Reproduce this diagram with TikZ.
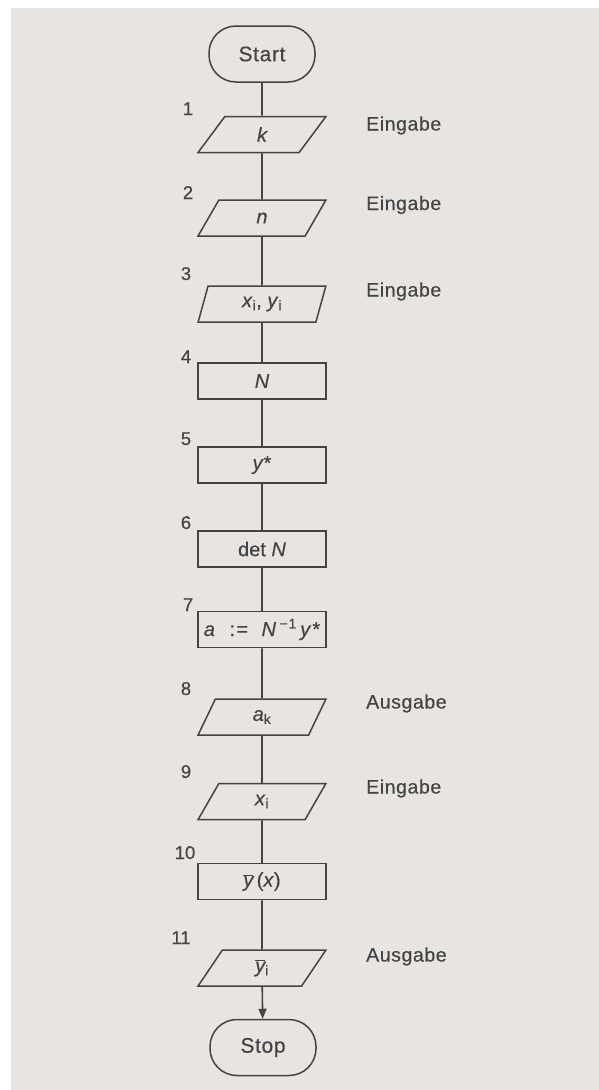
\documentclass[tikz,border=0pt]{standalone}
\usepackage{fontspec}
\setmainfont[FakeBold=0.35]{Liberation Sans}
\usetikzlibrary{shapes.geometric,arrows.meta}
\definecolor{paper}{RGB}{231,228,225}
\definecolor{ink}{RGB}{68,68,68}
\newfontfamily\lblfont[LetterSpace=3,FakeBold=0.35]{Liberation Sans}
\newfontfamily\termfont[LetterSpace=3,FakeBold=0.35]{Liberation Sans}
\newfontfamily\widefont[LetterSpace=6,FakeBold=0.35]{Liberation Sans}
\newcommand{\ybar}{$\overline{\mbox{\itshape y}}$}
\begin{document}
\begin{tikzpicture}[x=1pt,y=-1pt,
  every node/.style={text=ink, inner sep=0pt},
  term/.style={draw=ink, line width=1.5pt, rounded corners=27pt, minimum width=106pt, minimum height=56pt, font=\termfont\fontsize{21}{24}\selectfont},
  proc/.style={draw=ink, line width=1.5pt, minimum width=128pt, minimum height=36pt, font=\fontsize{20}{22}\selectfont},
  io/.style={trapezium, trapezium left angle=76, trapezium right angle=104, trapezium stretches=true, draw=ink, line width=1.5pt, minimum width=128pt, minimum height=36pt, font=\fontsize{20}{22}\selectfont},
  lbl/.style={anchor=base west, font=\lblfont\fontsize{19.5}{22}\selectfont},
  num/.style={anchor=base, font=\fontsize{18.5}{22}\selectfont},
  conn/.style={draw=ink, line width=1.6pt}
]
\fill[white] (0,0) rectangle (599,1090);
\fill[paper] (11,8) rectangle (599,1090);
\useasboundingbox (0,0) rectangle (599,1090);

\node[term] (start) at (262,54) {Start};
\node[io] (p1) at (262,134.5) {\itshape k};
\node[io] (p2) at (262,218) {\itshape n};
\node[io] (p3) at (262,304) {\textit{x}\textsubscript{i}, \textit{y}\textsubscript{i}};
\node[proc] (p4) at (262,381) {\itshape N};
\node[proc] (p5) at (262,465) {\textit{y}*};
\node[proc] (p6) at (262,549) {det \textit{N}};
\node[proc, font=\widefont\fontsize{20}{22}\selectfont] (p7) at (262,629.5) {\textit{a}\ \ :=\ \ \textit{N}\textsuperscript{\,−1}\,\textit{y}*};
\node[io] (p8) at (262,717) {\textit{a}\textsubscript{k}};
\node[io] (p9) at (262,801.5) {\textit{x}\textsubscript{i}};
\node[proc] (p10) at (262,881.5) {\ybar\,(\textit{x})};
\node[io] (p11) at (262,968) {\ybar\textsubscript{i}};
\node[term] (stop) at (263,1047.5) {Stop};

\draw[conn] (start) -- (p1);
\draw[conn] (p1) -- (p2);
\draw[conn] (p2) -- (p3);
\draw[conn] (p3) -- (p4);
\draw[conn] (p4) -- (p5);
\draw[conn] (p5) -- (p6);
\draw[conn] (p6) -- (p7);
\draw[conn] (p7) -- (p8);
\draw[conn] (p8) -- (p9);
\draw[conn] (p9) -- (p10);
\draw[conn] (p10) -- (p11);
\draw[conn, -{Triangle[length=10pt,width=8pt]}] (p11) -- (stop);

\node[num] (n1) at (188,115) {1};
\node[num] (n2) at (188,199) {2};
\node[num] (n3) at (186,280) {3};
\node[num] (n4) at (186,363) {4};
\node[num] (n5) at (186,445) {5};
\node[num] (n6) at (186,529) {6};
\node[num] (n7) at (188,611) {7};
\node[num] (n8) at (186,695) {8};
\node[num] (n9) at (186,778) {9};
\node[num] (n10) at (185,859) {10};
\node[num] (n11) at (181,944) {11};

\node[lbl] (l1) at (366,130.5) {Eingabe};
\node[lbl] (l2) at (366,210) {Eingabe};
\node[lbl] (l3) at (366,296.5) {Eingabe};
\node[lbl] (l8) at (366,708.5) {Ausgabe};
\node[lbl] (l9) at (366,793.5) {Eingabe};
\node[lbl] (l11) at (366,961.5) {Ausgabe};
\end{tikzpicture}
\end{document}
